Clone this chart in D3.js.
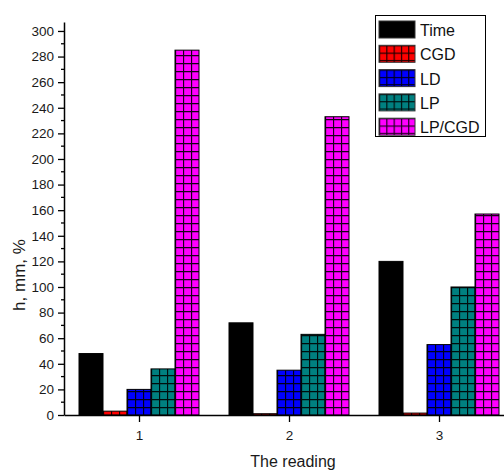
<!DOCTYPE html>
<html><head><meta charset="utf-8">
<script src="https://cdn.jsdelivr.net/npm/d3@7"></script>
<style>body{margin:0;background:#fff}svg{display:block;font-family:"Liberation Sans",Arial,sans-serif}</style>
</head><body><svg id="c" width="504" height="471"></svg>
<script>
const categories = ["1","2","3"];
const seriesNames = ["Time","CGD","LD","LP","LP/CGD"];
const seriesColors = ["#000000","#ff0000","#0000ff","#008080","#ff00ff"];
const timeVals = [48,72,120];
const cgdVals = [3,1,1.5];
const ldVals = [20,35,55];
const lpVals = [36,63,100];
const lpcgdVals = [285,233,157];
const yTicks = [0,20,40,60,80,100,120,140,160,180,200,220,240,260,280,300];
const series = [timeVals,cgdVals,ldVals,lpVals,lpcgdVals];
const FONT = "'Liberation Sans', Arial, sans-serif";

const svg = d3.select("#c");
const x = d3.scaleLinear().domain([0.5,3.5]).range([64,514]);
const y = d3.scaleLinear().domain([0,307]).range([415,22]);
const barW = 24;
const defs = svg.append("defs");

function makePattern(id, color, ox, oy, cell){
  const p = defs.append("pattern").attr("id",id).attr("patternUnits","userSpaceOnUse")
    .attr("width",cell).attr("height",cell)
    .attr("patternTransform",`translate(${ox},${oy})`);
  p.append("rect").attr("width",cell).attr("height",cell).attr("fill",color);
  p.append("path").attr("d",`M0,0.5H${cell}M0.5,0V${cell}`).attr("stroke","#000").attr("stroke-width",1.3).attr("fill","none").attr("opacity",0.9);
}

// bars
series.forEach((vals,si)=>{
  vals.forEach((v,ci)=>{
    const cx = x(ci+1);
    const bx = cx - 2.5*barW + si*barW;
    let fill = seriesColors[si];
    if(si>0){
      const id = `p${si}_${ci}`;
      makePattern(id, seriesColors[si], bx, y(0), 8);
      fill = `url(#${id})`;
    }
    svg.append("rect").attr("x",bx).attr("y",y(v)).attr("width",barW).attr("height",y(0)-y(v))
      .attr("fill",fill).attr("stroke","#000").attr("stroke-width",1);
  });
});

// y axis
const ya = svg.append("g").attr("transform","translate(64,0)");
ya.call(d3.axisLeft(y).tickValues(yTicks).tickSize(6).tickSizeOuter(0));
ya.select(".domain").attr("stroke-width",1.5);
ya.selectAll(".tick line").attr("stroke-width",1.3);
ya.selectAll(".tick text").attr("font-size",13.5).attr("fill","#1a1a1a").attr("font-family",FONT).attr("x",-10);
const minor = d3.range(10,301,20);
ya.selectAll(".minor").data(minor).enter().append("line").attr("class","minor")
  .attr("x1",-3).attr("x2",0).attr("y1",d=>y(d)).attr("y2",d=>y(d)).attr("stroke","#000").attr("stroke-width",1.3);

// x axis
const xa = svg.append("g").attr("transform","translate(0,415)");
xa.call(d3.axisBottom(x).tickValues([1,2,3]).tickFormat((d,i)=>categories[i]).tickSize(7).tickSizeOuter(0));
xa.select(".domain").attr("stroke-width",1.5);
xa.selectAll(".tick line").attr("stroke-width",1.3);
xa.selectAll(".tick text").attr("font-size",13.5).attr("fill","#1a1a1a").attr("font-family",FONT).attr("dy","1.1em");

// axis titles
svg.append("text").attr("transform","translate(25,275) rotate(-90)").attr("text-anchor","middle")
  .attr("font-family",FONT).attr("font-size",17).attr("fill","#1a1a1a").text("h, mm, %");
svg.append("text").attr("x",293).attr("y",467).attr("text-anchor","middle")
  .attr("font-family",FONT).attr("font-size",16).attr("fill","#1a1a1a").text("The reading");

// legend
const lg = svg.append("g");
lg.append("rect").attr("x",375.5).attr("y",15.5).attr("width",110).attr("height",121).attr("fill","#fff").attr("stroke","#000").attr("stroke-width",1);
seriesNames.forEach((n,i)=>{
  const ry = 21 + i*24.3;
  let fill = seriesColors[i];
  if(i>0){
    const id = `lg${i}`;
    makePattern(id, seriesColors[i], 379, ry, 7.3);
    fill = `url(#${id})`;
  }
  lg.append("rect").attr("x",379).attr("y",ry).attr("width",36).attr("height",17).attr("fill",fill).attr("stroke","#333").attr("stroke-width",1);
  lg.append("text").attr("x",420).attr("y",ry+15).attr("font-family",FONT).attr("font-size",16).attr("fill","#111").text(n);
});
</script></body></html>
